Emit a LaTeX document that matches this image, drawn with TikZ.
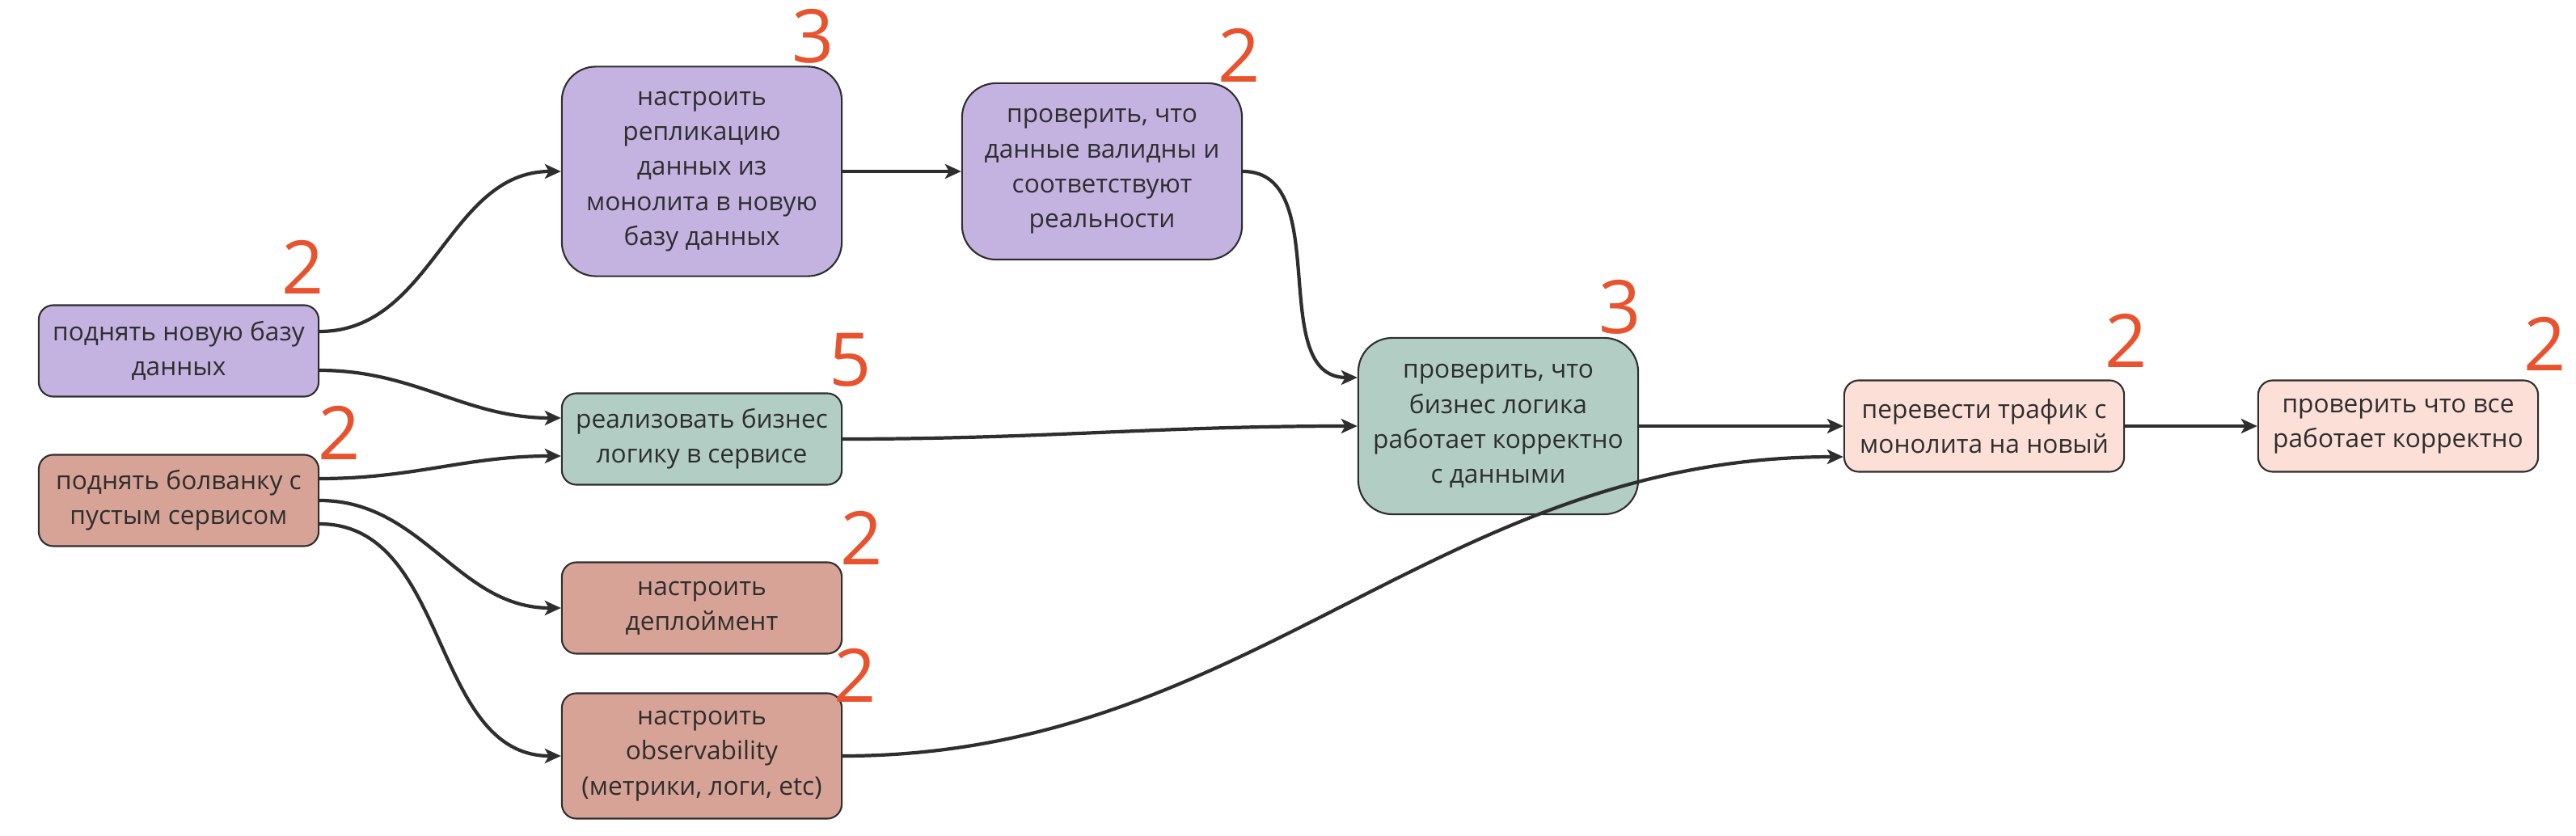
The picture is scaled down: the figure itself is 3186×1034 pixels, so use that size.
\documentclass[tikz,border=0pt]{standalone}
\usepackage{fontspec}
\setmainfont{Open Sans}
\usetikzlibrary{arrows.meta}

\definecolor{lavender}{HTML}{C4B3E0}
\definecolor{sage}{HTML}{B1CDC4}
\definecolor{clay}{HTML}{D7A396}
\definecolor{blush}{HTML}{FCDFD7}
\definecolor{pen}{HTML}{E8532E}
\definecolor{ink}{HTML}{2E2E2E}

\tikzset{
  task/.style={draw=ink, line width=0.6pt, rounded corners=0.18cm, align=center,
    minimum width=3.46cm, minimum height=1.13cm, inner sep=0pt, text=ink,
    font=\fontsize{9}{12.3}\selectfont},
  tall/.style={rounded corners=0.42cm},
  est/.style={text=pen, font=\fontsize{26}{26}\selectfont},
  link/.style={-{Stealth[length=0.2cm, width=0.18cm, inset=0.05cm]}, line width=1.2pt, draw=ink},
}

\begin{document}
\begin{tikzpicture}[x=0.01cm, y=-0.01cm]
        \useasboundingbox (0,0) rectangle (3186,1034);

        % tasks
        \node[task, fill=lavender] (newdb) at (221,434) {поднять новую базу\\данных};
        \node[task, fill=clay] (stub) at (221,619) {поднять болванку с\\пустым сервисом};
        \node[task, tall, fill=lavender, minimum height=2.59cm] (replic) at (868,212) {настроить\\репликацию\\данных из\\монолита в новую\\базу данных};
        \node[task, tall, fill=lavender, minimum height=2.18cm] (validate) at (1363,212) {проверить, что\\данные валидны и\\соответствуют\\реальности};
        \node[task, fill=sage] (bizlogic) at (868,543) {реализовать бизнес\\логику в сервисе};
        \node[task, fill=clay] (deploy) at (868,752) {настроить\\деплоймент};
        \node[task, fill=clay, minimum height=1.55cm] (observ) at (868,935) {настроить\\observability\\(метрики, логи, etc)};
        \node[task, tall, fill=sage, minimum height=2.18cm] (checklogic) at (1853,527) {проверить, что\\бизнес логика\\работает корректно\\с данными};
        \node[task, fill=blush] (traffic) at (2454,527) {перевести трафик с\\монолита на новый};
        \node[task, fill=blush] (final) at (2966,527) {проверить что все\\работает корректно};

        % estimates
        \node[est] (est-newdb) at (375,330) {2};
        \node[est] (est-stub) at (420,535) {2};
        \node[est] (est-replic) at (1006,45) {3};
        \node[est] (est-validate) at (1533,68) {2};
        \node[est] (est-bizlogic) at (1052,445) {5};
        \node[est] (est-deploy) at (1066,665) {2};
        \node[est] (est-observ) at (1058,835) {2};
        \node[est] (est-checklogic) at (2004,380) {3};
        \node[est] (est-traffic) at (2630,421) {2};
        \node[est] (est-final) at (3148,425) {2};

        % links
        \draw[link] ([yshift=0.24cm]newdb.east) to[out=0, in=180] (replic.west);
        \draw[link] ([yshift=-0.24cm]newdb.east) to[out=0, in=180] ([yshift=0.26cm]bizlogic.west);
        \draw[link] ([yshift=0.27cm]stub.east) to[out=0, in=180] ([yshift=-0.21cm]bizlogic.west);
        \draw[link] (stub.east) to[out=0, in=180] (deploy.west);
        \draw[link] ([yshift=-0.29cm]stub.east) to[out=0, in=180] (observ.west);
        \draw[link] (replic) -- (validate);
        \draw[link] (validate.east) to[out=0, in=180] ([yshift=0.6cm]checklogic.west);
        \draw[link] (bizlogic.east) to[out=0, in=180] (checklogic.west);
        \draw[link] (checklogic) -- (traffic);
        \draw[link] (observ.east) to[out=0, in=180] ([yshift=-0.38cm]traffic.west);
        \draw[link] (traffic) -- (final);
    \end{tikzpicture}
\end{document}
